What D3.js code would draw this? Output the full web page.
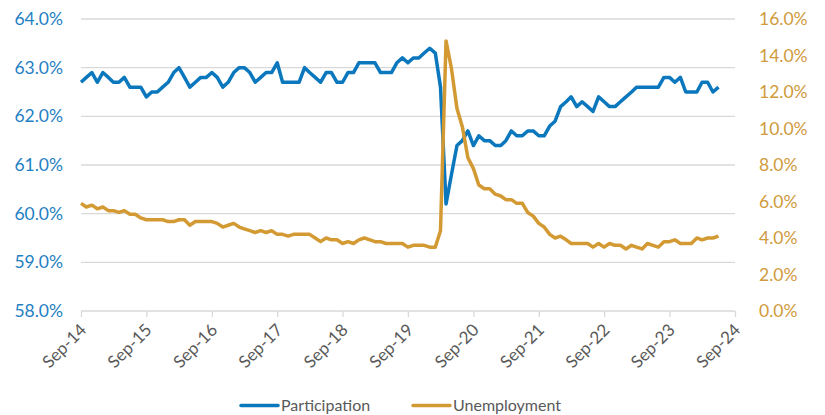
<!DOCTYPE html>
<html>
<head>
<meta charset="utf-8">
<script src="https://cdn.jsdelivr.net/npm/d3@7"></script>
<style>
  html, body { margin: 0; padding: 0; background: #ffffff; }
  svg { display: block; font-family: Lato, "Open Sans", sans-serif; }
</style>
</head>
<body>
<svg id="chart" width="825" height="415"></svg>
<script>
// ---- data (monthly, Sep-2014 .. Jun-2024) ----
const startMonth = "2014-09";
const participation = [
  62.7, 62.8, 62.9, 62.7, 62.9, 62.8, 62.7, 62.7, 62.8, 62.6, 62.6, 62.6,
  62.4, 62.5, 62.5, 62.6, 62.7, 62.9, 63.0, 62.8, 62.6, 62.7, 62.8, 62.8,
  62.9, 62.8, 62.6, 62.7, 62.9, 63.0, 63.0, 62.9, 62.7, 62.8, 62.9, 62.9,
  63.1, 62.7, 62.7, 62.7, 62.7, 63.0, 62.9, 62.8, 62.7, 62.9, 62.9, 62.7,
  62.7, 62.9, 62.9, 63.1, 63.1, 63.1, 63.1, 62.9, 62.9, 62.9, 63.1, 63.2,
  63.1, 63.2, 63.2, 63.3, 63.4, 63.3, 62.6, 60.2, 60.8, 61.4, 61.5, 61.7,
  61.4, 61.6, 61.5, 61.5, 61.4, 61.4, 61.5, 61.7, 61.6, 61.6, 61.7, 61.7,
  61.6, 61.6, 61.8, 61.9, 62.2, 62.3, 62.4, 62.2, 62.3, 62.2, 62.1, 62.4,
  62.3, 62.2, 62.2, 62.3, 62.4, 62.5, 62.6, 62.6, 62.6, 62.6, 62.6, 62.8,
  62.8, 62.7, 62.8, 62.5, 62.5, 62.5, 62.7, 62.7, 62.5, 62.6
];
const unemployment = [
  5.9, 5.7, 5.8, 5.6, 5.7, 5.5, 5.5, 5.4, 5.5, 5.3, 5.3, 5.1,
  5.0, 5.0, 5.0, 5.0, 4.9, 4.9, 5.0, 5.0, 4.7, 4.9, 4.9, 4.9,
  4.9, 4.8, 4.6, 4.7, 4.8, 4.6, 4.5, 4.4, 4.3, 4.4, 4.3, 4.4,
  4.2, 4.2, 4.1, 4.2, 4.2, 4.2, 4.2, 4.0, 3.8, 4.0, 3.9, 3.9,
  3.7, 3.8, 3.7, 3.9, 4.0, 3.9, 3.8, 3.8, 3.7, 3.7, 3.7, 3.7,
  3.5, 3.6, 3.6, 3.6, 3.5, 3.5, 4.4, 14.8, 13.3, 11.1, 10.1, 8.4,
  7.8, 6.9, 6.7, 6.7, 6.4, 6.3, 6.1, 6.1, 5.9, 5.9, 5.4, 5.2,
  4.8, 4.6, 4.2, 4.0, 4.1, 3.9, 3.7, 3.7, 3.7, 3.7, 3.5, 3.7,
  3.5, 3.7, 3.6, 3.6, 3.4, 3.6, 3.5, 3.4, 3.7, 3.6, 3.5, 3.8,
  3.8, 3.9, 3.7, 3.7, 3.7, 4.0, 3.9, 4.0, 4.0, 4.1
];
const leftTicks = [58, 59, 60, 61, 62, 63, 64];
const rightTicks = [0, 2, 4, 6, 8, 10, 12, 14, 16];
const xTickLabels = ["Sep-14","Sep-15","Sep-16","Sep-17","Sep-18","Sep-19","Sep-20","Sep-21","Sep-22","Sep-23","Sep-24"];
const seriesNames = ["Participation", "Unemployment"];

// ---- layout ----
const colors = { part: "#0B77BD", unemp: "#D39A33", leftText: "#1F80C4", rightText: "#CF9B3C", grid: "#D9D9D9", axisText: "#595959" };
const plot = { left: 81, right: 735, top: 19, bottom: 311 };

const parseMonth = d3.timeParse("%Y-%m");
const start = parseMonth(startMonth);
const dates = participation.map((_, i) => d3.timeMonth.offset(start, i));
const tickDates = xTickLabels.map((_, i) => d3.timeMonth.offset(start, 12 * i));

const x = d3.scaleTime().domain([tickDates[0], tickDates[tickDates.length - 1]]).range([plot.left, plot.right]);
const yL = d3.scaleLinear().domain([58, 64]).range([plot.bottom, plot.top]);
const yR = d3.scaleLinear().domain([0, 16]).range([plot.bottom, plot.top]);

const svg = d3.select("#chart");

// gridlines
svg.append("g").selectAll("line").data(leftTicks.slice(1)).join("line")
  .attr("x1", plot.left).attr("x2", plot.right)
  .attr("y1", d => yL(d)).attr("y2", d => yL(d))
  .attr("stroke", colors.grid).attr("stroke-width", 1.3);

// x axis
const xAxis = d3.axisBottom(x).tickValues(tickDates).tickSize(6).tickFormat((d, i) => xTickLabels[i]);
const gx = svg.append("g").attr("transform", `translate(0,${plot.bottom})`).call(xAxis);
gx.select(".domain").attr("stroke", colors.grid).attr("stroke-width", 1.3).attr("d", `M${plot.left},0H${plot.right}`);
gx.selectAll(".tick line").attr("stroke", colors.grid).attr("stroke-width", 1.3);
gx.selectAll(".tick text")
  .attr("fill", colors.axisText).style("font-size", "17px").style("font-family", "Lato, sans-serif")
  .attr("text-anchor", "end")
  .attr("dy", null).attr("y", 0)
  .attr("transform", "translate(6,20) rotate(-45)");

// left axis
const gl = svg.append("g").attr("transform", `translate(${plot.left - 18},0)`)
  .call(d3.axisLeft(yL).tickValues(leftTicks).tickSize(0).tickFormat(d => d3.format(".1f")(d) + "%"));
gl.select(".domain").remove();
gl.selectAll("text").attr("fill", colors.leftText).style("font-size", "17.5px").style("font-family", "Lato, sans-serif").attr("x", 0);

// right axis
const gr = svg.append("g").attr("transform", `translate(${plot.right + 24},0)`)
  .call(d3.axisRight(yR).tickValues(rightTicks).tickSize(0).tickFormat(d => d3.format(".1f")(d) + "%"));
gr.select(".domain").remove();
gr.selectAll("text").attr("fill", colors.rightText).style("font-size", "17.5px").style("font-family", "Lato, sans-serif").attr("x", 0);

// lines
const linePart = d3.line().x((d, i) => x(dates[i])).y(d => yL(d));
const lineUnemp = d3.line().x((d, i) => x(dates[i])).y(d => yR(d));
svg.append("path").datum(participation).attr("d", linePart)
  .attr("fill", "none").attr("stroke", colors.part).attr("stroke-width", 3.5).attr("stroke-linejoin", "round");
svg.append("path").datum(unemployment).attr("d", lineUnemp)
  .attr("fill", "none").attr("stroke", colors.unemp).attr("stroke-width", 3.5).attr("stroke-linejoin", "round");

// legend
const legend = [
  { name: seriesNames[0], color: colors.part, x: 241 },
  { name: seriesNames[1], color: colors.unemp, x: 413 }
];
const lg = svg.append("g");
legend.forEach(l => {
  lg.append("line").attr("x1", l.x).attr("x2", l.x + 37).attr("y1", 405.5).attr("y2", 405.5)
    .attr("stroke", l.color).attr("stroke-width", 3.5).attr("stroke-linecap", "round");
  lg.append("text").attr("x", l.x + 40).attr("y", 405.5).attr("dy", "0.35em")
    .attr("fill", colors.axisText).style("font-size", "16px").style("font-family", "Lato, sans-serif")
    .text(l.name);
});
</script>
</body>
</html>
